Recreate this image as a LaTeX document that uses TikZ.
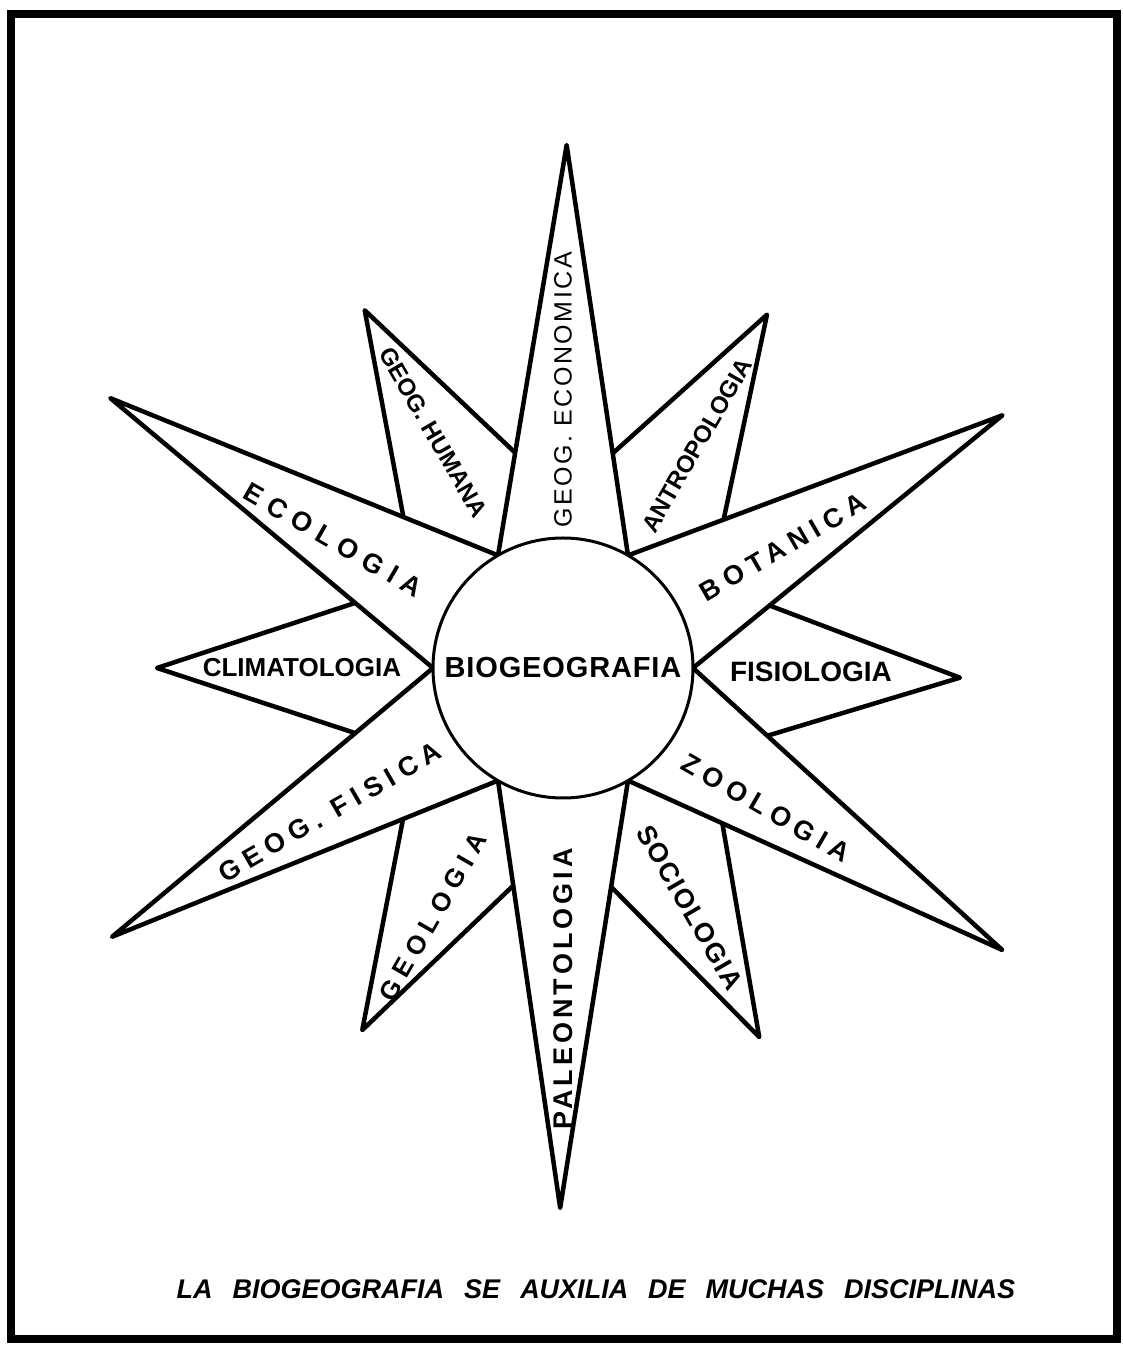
\documentclass[tikz,border=0pt]{standalone}
\usepackage{fontspec}
\newfontfamily\lblfont{Liberation Sans}
\tikzset{
  ray/.style={draw=black,fill=white,line width=4.5pt,line join=round},
  lab/.style 2 args={font={\lblfont\bfseries\fontsize{#1}{#1}\selectfont\addfontfeature{LetterSpace=#2}},inner sep=0pt},
  labm/.style 2 args={font={\lblfont\fontsize{#1}{#1}\selectfont\addfontfeature{LetterSpace=#2}},inner sep=0pt},
  captxt/.style={font={\lblfont\bfseries\itshape\fontsize{27}{27}\selectfont\spaceskip=20pt\relax},inner sep=0pt},
}
\begin{document}
\begin{tikzpicture}[x=1pt,y=1pt]
\useasboundingbox (-563,-680) rectangle (559,668);
\draw[line width=8pt] (-552,-671) rectangle (554,654);
% short rays (behind)
\draw[ray] (-1.4:397) foreach \b/\a/\r in {30/60/408,90/119/409,150/180/406,210/241/414,270/298/418} { -- (\b:170) -- (\a:\r) } -- (330:170) -- cycle;
% long rays
\draw[ray] (29.9:507) foreach \b/\a/\r in {60/89.6/523,120/149.2/527,180/210.8/525,240/269.7/540,300/327.3/522} { -- (\b:130) -- (\a:\r) } -- (0:130) -- cycle;
\node[draw,circle,fill=white,line width=3pt,minimum size=260pt,lab={29}{3}] (bio) at (0,0) {BIOGEOGRAFIA};
% labels
\node[labm={25}{10},rotate=90] (econ) at (90:278) {GEOG. ECONOMICA};
\node[lab={24}{0},rotate=-60] (hum) at (118.8:269) {GEOG.\ HUMANA};
\node[lab={24}{0},rotate=60] (antro) at (59:260) {ANTROPOLOGIA};
\node[lab={27}{30},rotate=-30] (eco) at (150.9:263) {ECOLOGIA};
\node[lab={27}{25},rotate=30] (bot) at (28.8:251) {BOTANICA};
\node[lab={26}{0}] (clim) at (180:261) {CLIMATOLOGIA};
\node[lab={28}{0}] (fis) at (-1:248) {FISIOLOGIA};
\node[lab={27}{25},rotate=30] (fisica) at (211.7:274) {GEOG. FISICA};
\node[lab={27}{24},rotate=-30] (zoo) at (325.4:247) {ZOOLOGIA};
\node[lab={26}{27},rotate=60] (geo) at (242.4:281) {GEOLOGIA};
\node[lab={27}{15},rotate=90] (paleo) at (270:321) {PALEONTOLOGIA};
\node[lab={27}{5},rotate=-60] (socio) at (297.9:271) {SOCIOLOGIA};
\node[captxt] (caption) at (33,-621) {LA BIOGEOGRAFIA SE AUXILIA DE MUCHAS DISCIPLINAS};
\end{tikzpicture}
\end{document}
